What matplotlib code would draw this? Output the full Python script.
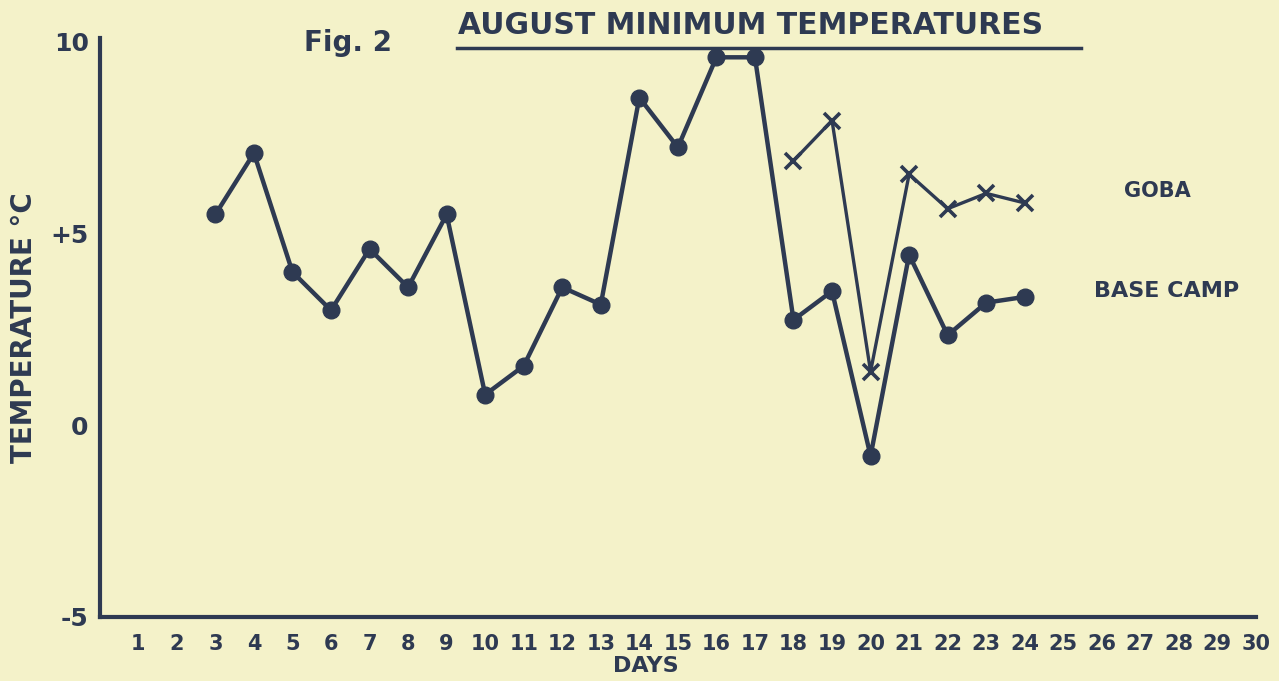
import matplotlib
matplotlib.use("Agg")
import matplotlib.pyplot as plt
from matplotlib.lines import Line2D

# day of August and minimum temperature (deg C)
baseDays = [3, 4, 5, 6, 7, 8, 9, 10, 11, 12, 13, 14, 15, 16, 17, 18, 19, 20, 21, 22, 23, 24]
baseTemps = [5.5, 7.1, 4.0, 3.0, 4.6, 3.6, 5.5, 0.8, 1.55, 3.6, 3.15, 8.55, 7.25, 9.6, 9.6,
             2.75, 3.5, -0.8, 4.45, 2.35, 3.2, 3.35]
gobaDays = [18, 19, 20, 21, 22, 23, 24]
gobaTemps = [6.9, 7.95, 1.4, 6.55, 5.65, 6.05, 5.8]

dayTicks = list(range(1, 31))
tempTicks = [-5, 0, 5, 10]
tempLabels = ["-5", "0", "+5", "10"]

paper = "#f4f2c9"
ink = "#2e3a52"

plt.rcParams['font.family'] = ['DejaVu Sans']
plt.rcParams['font.weight'] = 'bold'
plt.rcParams['axes.labelweight'] = 'bold'

fig = plt.figure(figsize=(12.79, 6.81), dpi=100, facecolor=paper)
ax = fig.add_axes([0.078, 0.094, 0.904, 0.850])
ax.set_facecolor(paper)

ax.plot(baseDays, baseTemps, color=ink, lw=3.2, marker="o", markersize=12,
        markerfacecolor=ink, markeredgecolor=ink)
ax.plot(gobaDays, gobaTemps, color=ink, lw=2.4, marker="x", markersize=12,
        markeredgewidth=2.6)

ax.set_xlim(0, 30)
ax.set_ylim(-5, 10.1)
ax.set_xticks(dayTicks)
ax.set_xticklabels([str(d) for d in dayTicks], fontsize=15, color=ink)
ax.set_yticks(tempTicks)
ax.set_yticklabels(tempLabels, fontsize=18, color=ink)
ax.tick_params(axis="x", length=0, pad=12)
ax.tick_params(axis="y", length=0, pad=8)

for side in ["top", "right"]:
    ax.spines[side].set_visible(False)
for side in ["left", "bottom"]:
    ax.spines[side].set_color(ink)
    ax.spines[side].set_linewidth(3)

ax.set_xlabel("DAYS", fontsize=16, color=ink)
ax.xaxis.set_label_coords(0.472, -0.068)
ax.set_ylabel("TEMPERATURE °C", fontsize=20, color=ink)
ax.yaxis.set_label_coords(-0.053, 0.50)

fig.text(0.905, 0.72, "GOBA", fontsize=15, color=ink, ha="center", va="center")
fig.text(0.912, 0.572, "BASE CAMP", fontsize=16, color=ink, ha="center", va="center")

fig.text(0.272, 0.937, "Fig. 2", fontsize=20, color=ink, ha="center", va="center")
fig.text(0.587, 0.963, "AUGUST MINIMUM TEMPERATURES", fontsize=21.5, color=ink,
         ha="center", va="center")
fig.add_artist(Line2D([0.357, 0.845], [0.929, 0.929], color=ink, lw=2.5))

fig.savefig("out.png", dpi=100, facecolor=paper)
